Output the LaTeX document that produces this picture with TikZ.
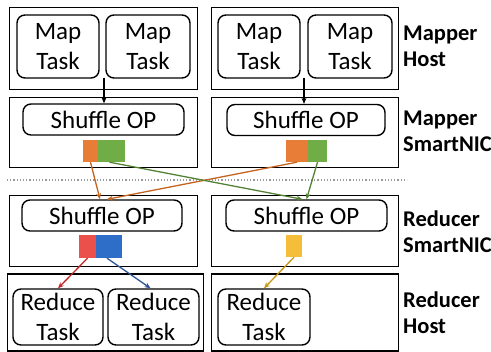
\documentclass[tikz,border=0pt]{standalone}
\usepackage{fontspec}
\setmainfont{Carlito}
\usepackage{tikz}
\usetikzlibrary{arrows.meta,positioning}
\definecolor{cellorange}{RGB}{232,125,55}
\definecolor{cellgreen}{RGB}{112,173,71}
\definecolor{cellred}{RGB}{236,80,74}
\definecolor{cellblue}{RGB}{46,110,200}
\definecolor{cellyellow}{RGB}{244,190,58}
\definecolor{arroworange}{RGB}{197,100,30}
\definecolor{arrowgreen}{RGB}{84,130,53}
\definecolor{arrowred}{RGB}{192,40,40}
\definecolor{arrowblue}{RGB}{47,85,151}
\definecolor{arrowyellow}{RGB}{196,150,20}

\begin{document}
\begin{tikzpicture}[
    x=1pt, y=-1pt,
    hostbox/.style={rectangle, draw, line width=1.8pt, inner sep=0pt},
    taskbox/.style={rectangle, rounded corners=8pt, draw, line width=1.4pt, align=center,
        font=\fontsize{25}{30}\selectfont, inner sep=0pt},
    cell/.style={rectangle, inner sep=0pt, minimum height=22pt},
    tag/.style={anchor=west, align=left, inner sep=0pt, font=\fontsize{22.5}{26}\selectfont\bfseries},
    arrow/.style={-{Stealth[length=6pt,width=5pt]}, line width=1.3pt}
]
\useasboundingbox (0,0) rectangle (491,352);

% Mapper host
\node[hostbox, minimum width=188pt, minimum height=82pt] (mhostL) at (103.5,48.5) {};
\node[hostbox, minimum width=187pt, minimum height=82pt] (mhostR) at (305,48.5) {};
\node[taskbox, minimum width=82pt, minimum height=63pt] (mapA) at (58,46.5) {Map\\Task};
\node[taskbox, minimum width=84pt, minimum height=63pt] (mapB) at (148,46.5) {Map\\Task};
\node[taskbox, minimum width=82pt, minimum height=63pt] (mapC) at (259,46.5) {Map\\Task};
\node[taskbox, minimum width=84pt, minimum height=63pt] (mapD) at (350,46.5) {Map\\Task};

% Mapper SmartNIC
\node[hostbox, minimum width=188pt, minimum height=70pt] (mnicL) at (103.5,132.5) {};
\node[hostbox, minimum width=187pt, minimum height=70pt] (mnicR) at (305,132.5) {};
\node[taskbox, minimum width=161pt, minimum height=31pt] (mshufL) at (103.5,119.5) {Shuffle OP};
\node[taskbox, minimum width=158pt, minimum height=31pt] (mshufR) at (306,120) {Shuffle OP};
\node[cell, fill=cellorange, minimum width=15pt] (orangeL) at (90.5,151) {};
\node[cell, fill=cellgreen, minimum width=27pt] (greenL) at (111.5,151) {};
\node[cell, fill=cellorange, minimum width=22pt] (orangeR) at (297,151) {};
\node[cell, fill=cellgreen, minimum width=19pt] (greenR) at (317.5,151) {};

% Separator
\coordinate (sepL) at (7,180);
\coordinate (sepR) at (407,180);
\draw[gray!80, line width=1.2pt, dotted] (sepL) -- (sepR);

% Reducer SmartNIC
\node[hostbox, minimum width=188pt, minimum height=71pt] (rnicL) at (103.5,231) {};
\node[hostbox, minimum width=187pt, minimum height=71pt] (rnicR) at (305,231) {};
\node[taskbox, minimum width=160pt, minimum height=31pt] (rshufL) at (102,215.5) {Shuffle OP};
\node[taskbox, minimum width=161pt, minimum height=31pt] (rshufR) at (306.5,215.5) {Shuffle OP};
\node[cell, fill=cellred, minimum width=17pt, minimum height=23pt] (redL) at (87.5,246.5) {};
\node[cell, fill=cellblue, minimum width=26pt, minimum height=23pt] (blueL) at (109,246.5) {};
\node[cell, fill=cellyellow, minimum width=16pt] (yellowR) at (294,246) {};

% Reducer host
\node[hostbox, minimum width=196pt, minimum height=77pt] (rhostL) at (105.5,312.5) {};
\node[hostbox, minimum width=187pt, minimum height=77pt] (rhostR) at (305,312.5) {};
\node[taskbox, minimum width=90pt, minimum height=56pt] (redA) at (58,317) {Reduce\\Task};
\node[taskbox, minimum width=91pt, minimum height=56pt] (redB) at (153.5,317) {Reduce\\Task};
\node[taskbox, minimum width=92pt, minimum height=56pt] (redC) at (264,317) {Reduce\\Task};

% Labels
\node[tag] (lblMH) at (403,46) {Mapper\\Host};
\node[tag] (lblMN) at (403,131) {Mapper\\SmartNIC};
\node[tag] (lblRN) at (403,232) {Reducer\\SmartNIC};
\node[tag] (lblRH) at (403,313) {Reducer\\Host};

% Map tasks to shuffle
\coordinate (mapoutL) at (104,78);
\coordinate (mapoutR) at (304,78);
\draw[arrow] (mapoutL) -- (mapoutL |- mshufL.north);
\draw[arrow] (mapoutR) -- (mapoutR |- mshufR.north);

% Shuffle across
\draw[arrow, arroworange] (orangeL.south) -- ([xshift=-2pt]rshufL.north);
\draw[arrow, arroworange] (orangeR.south) -- ([xshift=5pt]rshufL.north);
\draw[arrow, arrowgreen] ([xshift=-2pt]greenL.south) -- ([xshift=-4pt]rshufR.north);
\draw[arrow, arrowgreen] (greenR.south) -- ([xshift=0pt]rshufR.north);

% Reduce
\draw[arrow, arrowred] (redL.south) -- (redA.north);
\draw[arrow, arrowblue] ([xshift=-2pt]blueL.south) -- ([xshift=-3pt]redB.north);
\draw[arrow, arrowyellow] (yellowR.south) -- (redC.north);

\end{tikzpicture}
\end{document}
